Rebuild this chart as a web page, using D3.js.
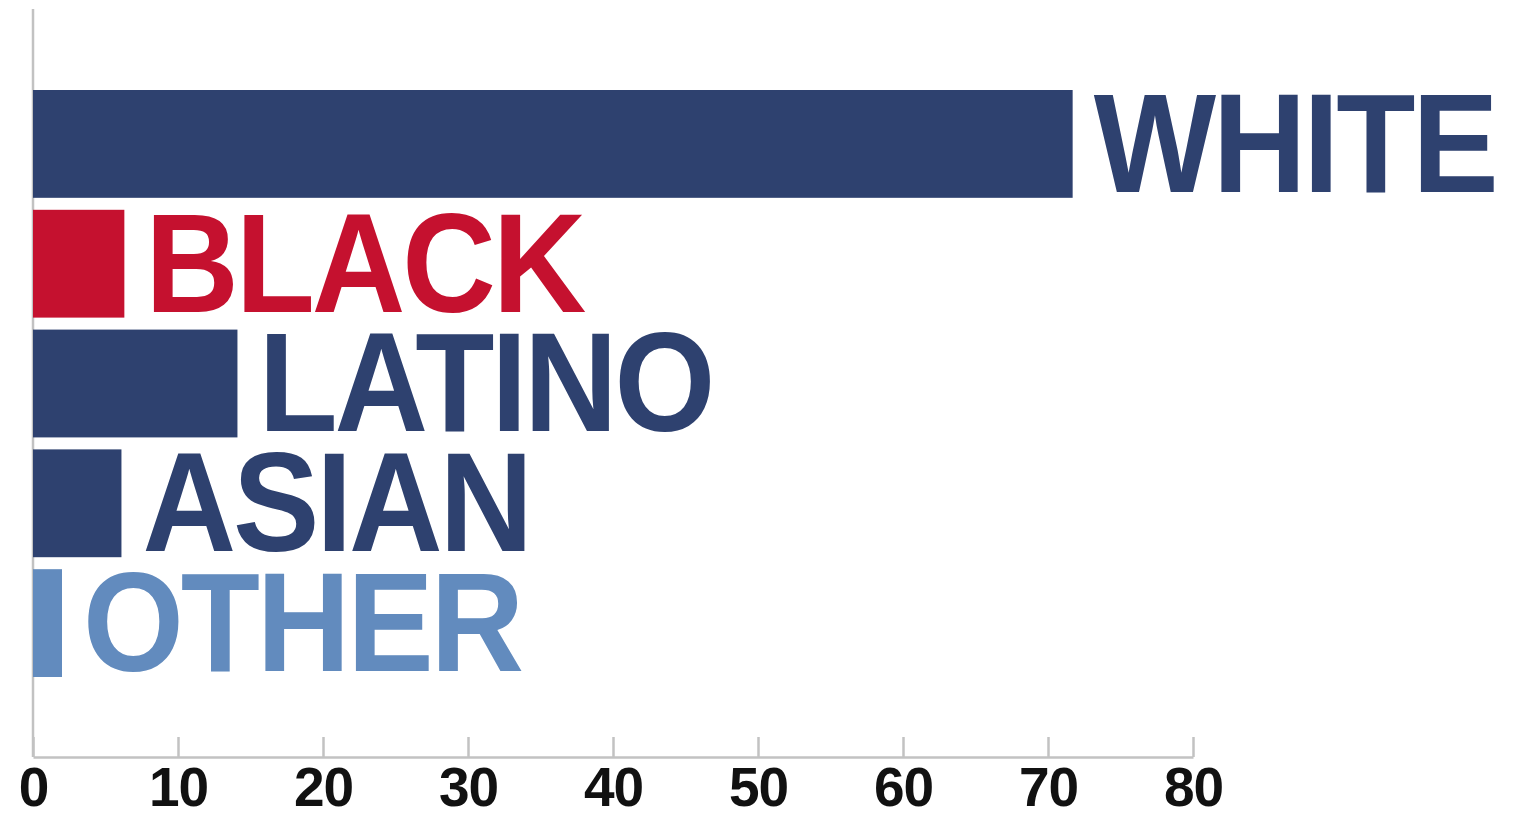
<!DOCTYPE html>
<html><head><meta charset="utf-8">
<script src="https://cdn.jsdelivr.net/npm/d3@7"></script>
<style>html,body{margin:0;padding:0;background:#fff;}svg{display:block;}</style>
</head><body>
<svg id="chart" width="1529" height="814"></svg>
<script>
const categories = ["WHITE", "BLACK", "LATINO", "ASIAN", "OTHER"];
const values = [71.7, 6.3, 14.1, 6.1, 2.0];
const colors = ["#2e416f", "#c5112f", "#2e416f", "#2e416f", "#628bbe"];
const tickValues = [0, 10, 20, 30, 40, 50, 60, 70, 80];

const svg = d3.select("#chart");
const x = d3.scaleLinear().domain([0, 80]).range([33, 1193]);
const y = d3.scaleBand().domain(categories).range([90, 677]).paddingInner(0.1).paddingOuter(0);
const axisY = 757;

// vertical axis line
svg.append("line").attr("x1", x(0)).attr("x2", x(0)).attr("y1", 9).attr("y2", axisY)
  .attr("stroke", "#c2c2c2").attr("stroke-width", 2.5);

// x axis
const xAxis = d3.axisBottom(x).tickValues(tickValues).tickSizeInner(-20).tickSizeOuter(0).tickPadding(14);
const g = svg.append("g").attr("transform", `translate(0,${axisY})`).call(xAxis);
g.select(".domain").attr("stroke", "#c2c2c2").attr("stroke-width", 2.5);
g.selectAll(".tick line").attr("stroke", "#c2c2c2").attr("stroke-width", 2.5);
g.selectAll(".tick text").attr("fill", "#111").attr("font-family", "Liberation Sans, Arial, sans-serif")
  .attr("font-weight", "bold").attr("font-size", 55).attr("letter-spacing", "-1px")
  .attr("dy", "0.71em").attr("y", 10);

// bars
svg.selectAll("rect.bar").data(categories).join("rect").attr("class", "bar")
  .attr("x", x(0)).attr("y", d => y(d))
  .attr("width", (d, i) => x(values[i]) - x(0))
  .attr("height", y.bandwidth())
  .attr("fill", (d, i) => colors[i]);

// labels (slightly condensed, tight letterforms)
svg.selectAll("g.lbl").data(categories).join("g").attr("class", "lbl")
  .attr("transform", (d, i) => `translate(${x(values[i]) + 21},${y(d) + y.bandwidth() - 6}) scale(0.92,1)`)
  .append("text")
  .attr("fill", (d, i) => colors[i])
  .attr("font-family", "Liberation Sans, Arial, sans-serif")
  .attr("font-weight", "bold").attr("font-size", 141)
  .attr("letter-spacing", "-3.5px")
  .text(d => d);
</script>
</body></html>
